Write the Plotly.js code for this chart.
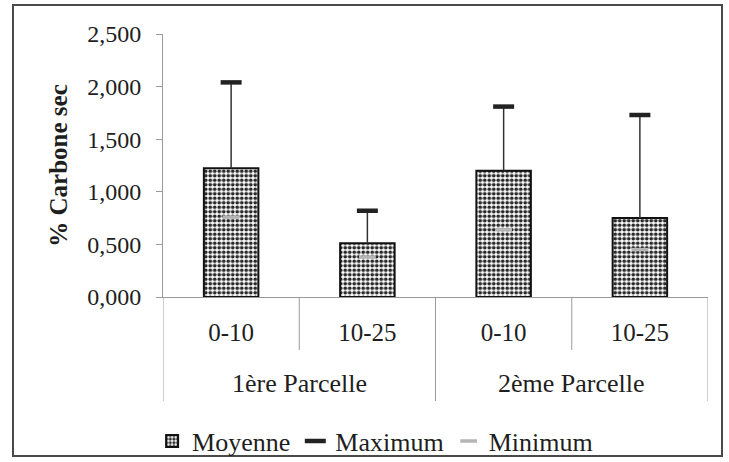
<!DOCTYPE html>
<html>
<head>
<meta charset="utf-8">
<script src="https://cdn.plot.ly/plotly-3.0.1.min.js"></script>
<style>
html,body{margin:0;padding:0;background:#fff;}
#chart{width:729px;height:462px;}
</style>
</head>
<body>
<div id="chart"></div>
<script>
// Data
const groups = ["1ère Parcelle", "1ère Parcelle", "2ème Parcelle", "2ème Parcelle"];
const depths = ["0-10", "10-25", "0-10", "10-25"];
const moyenne = [1.225, 0.51, 1.20, 0.75];
const maximum = [2.04, 0.82, 1.81, 1.73];
const minimum = [0.76, 0.38, 0.64, 0.45];
const yTicks = [0, 0.5, 1, 1.5, 2, 2.5];
const groupNames = ["1ère Parcelle", "2ème Parcelle"];

// unique category keys (group + depth), displayed with the depth label only
const cats = groups.map((g, i) => g + " | " + depths[i]);
const stem = maximum.map((m, i) => m - moyenne[i]);
const serif = "Liberation Serif";
const ink = "#1e1e1e";
const divColor = "#9a9a9a";

const traces = [
  {
    type: "bar", name: "Moyenne", x: cats, y: moyenne,
    marker: {
      color: "#ffffff",
      line: {color: "#111", width: 2},
      pattern: {shape: ".", fgcolor: "#2a2a2a", bgcolor: "#ffffff", size: 4.5, solidity: 0.55, fillmode: "replace"}
    },
    error_y: {type: "data", symmetric: false, array: stem, arrayminus: [0,0,0,0], width: 0, thickness: 1.5, color: "#333"},
    hoverinfo: "skip"
  },
  {
    type: "scatter", mode: "markers", name: "Maximum", x: cats, y: maximum,
    marker: {symbol: "line-ew", size: 15, line: {color: "#222", width: 4.5}},
    hoverinfo: "skip"
  },
  {
    type: "scatter", mode: "markers", name: "Minimum", x: cats, y: minimum,
    marker: {symbol: "line-ew", size: 12, line: {color: "#b5b5b5", width: 3.5}},
    hoverinfo: "skip"
  }
];

// dividers under the x axis (x in category index units, y in paper units)
const shapes = [];
const n = cats.length;
for (let b = 0; b <= n; b++) {
  const isGroupEdge = (b === 0 || b === n || groups[b] !== groups[b - 1]);
  const bottomPx = isGroupEdge ? 401 : 350;
  shapes.push({
    type: "line", xref: "x", yref: "paper",
    x0: b - 0.5, x1: b - 0.5, y0: 0, y1: (297 - bottomPx) / 263,
    line: {color: divColor, width: 1}
  });
}
// outer frame
shapes.push({type: "rect", xref: "paper", yref: "paper",
  x0: (13 - 163) / 545, x1: (722 - 163) / 545,
  y0: (297 - 456) / 263, y1: (297 - 5) / 263,
  line: {color: "#4a4a4a", width: 2}, fillcolor: "rgba(0,0,0,0)", layer: "above"});

// group labels centred under their categories
const annotations = groupNames.map(gn => {
  const idx = groups.map((g, i) => g === gn ? i : -1).filter(i => i >= 0);
  const mid = (idx[0] + idx[idx.length - 1]) / 2;
  return {
    text: gn, xref: "x", yref: "paper", x: mid, y: (297 - 383) / 263,
    xanchor: "center", yanchor: "middle", showarrow: false,
    font: {family: serif, size: 26, color: ink}
  };
});

const layout = {
  width: 729, height: 462,
  margin: {l: 163, r: 21, t: 34, b: 165, autoexpand: false},
  paper_bgcolor: "#fff", plot_bgcolor: "#fff",
  separators: ", ",
  font: {family: serif, size: 25, color: ink},
  showlegend: true,
  bargap: 0.6,
  legend: {
    orientation: "h", x: -0.02, xanchor: "left", y: (297 - 441) / 263, yanchor: "middle",
    bgcolor: "rgba(0,0,0,0)",
    font: {family: serif, size: 26, color: ink}, itemwidth: 30, tracegroupgap: 0
  },
  xaxis: {
    type: "category", categoryorder: "array", categoryarray: cats,
    tickvals: cats, ticktext: depths,
    showline: true, linecolor: divColor, linewidth: 1,
    ticks: "", ticklabelstandoff: 13,
    tickfont: {family: serif, size: 25, color: ink},
    showgrid: false, zeroline: false, fixedrange: true, range: [-0.5, n - 0.5],
    automargin: false
  },
  yaxis: {
    range: [0, 2.5], tickvals: yTicks, tickformat: ".3f",
    showline: true, linecolor: divColor, linewidth: 1,
    ticks: "outside", ticklen: 6, tickcolor: divColor,
    ticklabelstandoff: 10,
    showgrid: false, zeroline: false,
    tickfont: {family: serif, size: 24, color: ink},
    title: {text: "<b>% Carbone sec</b>", font: {family: serif, size: 25, color: ink}, standoff: 12},
    fixedrange: true, automargin: false
  },
  shapes: shapes,
  annotations: annotations
};

Plotly.newPlot("chart", traces, layout, {staticPlot: true, displayModeBar: false});
</script>
</body>
</html>
